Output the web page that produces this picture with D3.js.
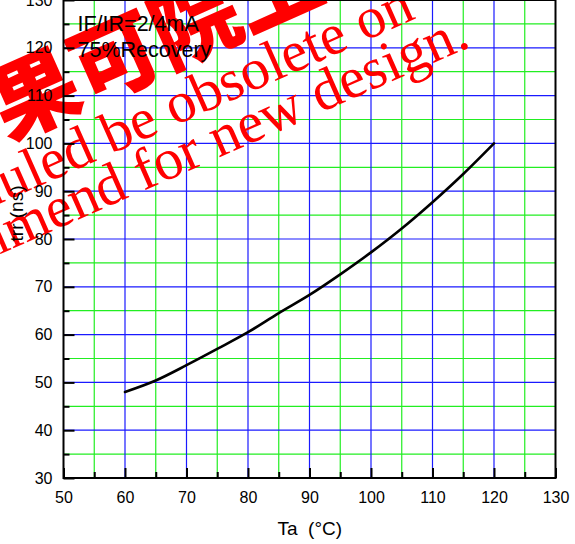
<!DOCTYPE html>
<html>
<head>
<meta charset="utf-8">
<script src="https://cdn.jsdelivr.net/npm/d3@7"></script>
<style>
  body { margin: 0; background: #fff; }
  svg { display: block; }
</style>
</head>
<body>
<svg id="chart" width="575" height="544"></svg>
<script>
// Reverse recovery time vs ambient temperature
const temperature = [60, 65, 70, 75, 80, 85, 90, 95, 100, 105, 110, 115, 120];
const trr = [48, 50.4, 53.6, 57, 60.5, 64.5, 68.3, 72.6, 77.2, 82.2, 87.7, 93.6, 100];

const xTicks = [50, 60, 70, 80, 90, 100, 110, 120, 130];
const xMinor = [55, 65, 75, 85, 95, 105, 115, 125];
const yTicks = [30, 40, 50, 60, 70, 80, 90, 100, 110, 120, 130];
const yMinor = [35, 45, 55, 65, 75, 85, 95, 105, 115, 125];

const notes = ["IF/IR=2/4mA", "75%Recovery"];
const xTitle = "Ta  (°C)";
const yTitle = "trr (ns)";
const stampLines = ["Scheduled be obsolete on", "Not recommend for new design."];
const stampCJK = "果可院上";

const svg = d3.select("#chart");
const plotL = 63.5, plotR = 555.5, plotT = 0, plotB = 478;

const x = d3.scaleLinear().domain([50, 130]).range([plotL, plotR]);
const y = d3.scaleLinear().domain([30, 130]).range([plotB, plotT]);

const sans = "'Liberation Sans', Arial, sans-serif";
const serif = "'Liberation Serif', 'Times New Roman', serif";

// grid: green at the half steps, blue at the labelled steps
const grid = svg.append("g");
grid.selectAll(".gx-minor").data(xMinor).join("line")
  .attr("x1", d => x(d)).attr("x2", d => x(d)).attr("y1", plotT).attr("y2", plotB)
  .attr("stroke", "#22ee22").attr("stroke-width", 1.2);
grid.selectAll(".gy-minor").data(yMinor).join("line")
  .attr("x1", plotL).attr("x2", plotR).attr("y1", d => y(d)).attr("y2", d => y(d))
  .attr("stroke", "#22ee22").attr("stroke-width", 1.2);
grid.selectAll(".gx-major").data(xTicks.slice(1, -1)).join("line")
  .attr("x1", d => x(d)).attr("x2", d => x(d)).attr("y1", plotT).attr("y2", plotB)
  .attr("stroke", "#1a1aff").attr("stroke-width", 1.2);
grid.selectAll(".gy-major").data(yTicks.slice(1, -1)).join("line")
  .attr("x1", plotL).attr("x2", plotR).attr("y1", d => y(d)).attr("y2", d => y(d))
  .attr("stroke", "#1a1aff").attr("stroke-width", 1.2);

// red overprint stamp
const stamp = svg.append("g").attr("fill", "#ff0000");
stamp.append("text")
  .attr("transform", "translate(32,88) rotate(-24)")
  .attr("x", -44).attr("dominant-baseline", "central")
  .attr("font-family", "'Noto Sans CJK SC', sans-serif")
  .attr("font-weight", 900).attr("font-size", 88)
  .text(stampCJK);
stamp.append("text")
  .attr("transform", "translate(417,18) rotate(-24)")
  .attr("text-anchor", "end")
  .attr("font-family", serif).attr("font-size", 58)
  .text(stampLines[0]);
stamp.append("text")
  .attr("transform", "translate(472,46) rotate(-23.8)")
  .attr("text-anchor", "end")
  .attr("font-family", serif).attr("font-size", 58)
  .text(stampLines[1]);

// axes with inward ticks
function styleAxis(g) {
  g.select(".domain").remove();
  g.selectAll(".tick line").attr("stroke", "#000").attr("stroke-width", 2);
  g.selectAll("text").attr("fill", "#000").attr("font-family", sans).attr("font-size", 16);
}

svg.append("g").attr("transform", `translate(${plotL},0)`)
  .call(d3.axisLeft(y).tickValues(yMinor).tickSize(-6).tickFormat(""))
  .call(styleAxis);
svg.append("g").attr("transform", `translate(${plotL},0)`)
  .call(d3.axisLeft(y).tickValues(yTicks).tickSize(-11).tickPadding(11))
  .call(styleAxis);
svg.append("g").attr("transform", `translate(0,${plotB})`)
  .call(d3.axisBottom(x).tickValues(xMinor).tickSize(-6).tickFormat(""))
  .call(styleAxis);
svg.append("g").attr("transform", `translate(0,${plotB})`)
  .call(d3.axisBottom(x).tickValues(xTicks).tickSize(-10).tickPadding(14))
  .call(styleAxis);

// frame
svg.append("rect")
  .attr("x", plotL).attr("y", plotT).attr("width", plotR - plotL).attr("height", plotB - plotT)
  .attr("fill", "none").attr("stroke", "#000").attr("stroke-width", 2);

// curve
const line = d3.line()
  .x((d, i) => x(temperature[i]))
  .y(d => y(d))
  .curve(d3.curveMonotoneX);
svg.append("path")
  .datum(trr)
  .attr("d", line)
  .attr("fill", "none").attr("stroke", "#000").attr("stroke-width", 2.6)
  .attr("stroke-linejoin", "round").attr("stroke-linecap", "round");

// conditions
svg.append("g").selectAll("text").data(notes).join("text")
  .attr("x", 77.5).attr("y", (d, i) => 30.7 + i * 26.5)
  .attr("font-family", sans).attr("font-size", 21.5).attr("fill", "#000")
  .text(d => d);

// axis titles
svg.append("text")
  .attr("x", 277.5).attr("y", 535)
  .attr("font-family", sans).attr("font-size", 19).attr("fill", "#000")
  .style("white-space", "pre")
  .text(xTitle);
svg.append("text")
  .attr("transform", "translate(23,213.5) rotate(-90)")
  .attr("text-anchor", "middle")
  .attr("font-family", sans).attr("font-size", 19).attr("fill", "#000")
  .text(yTitle);
</script>
</body>
</html>
